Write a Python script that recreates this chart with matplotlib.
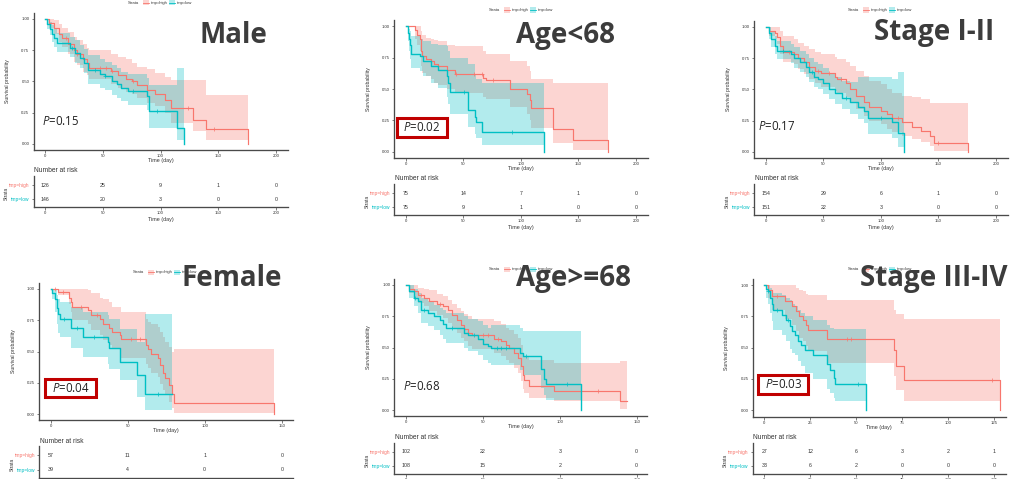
import matplotlib
matplotlib.use('Agg')
import matplotlib.pyplot as plt
from matplotlib.patches import Rectangle
import numpy as np

W, H = 1025, 479
RED = '#F8766D'
CYAN = '#00BFC4'

# ---------------- data ----------------
titles = ['Male', 'Age<68', 'Stage I-II', 'Female', 'Age>=68', 'Stage III-IV']
pvalues = ['0.15', '0.02', '0.17', '0.04', '0.68', '0.03']
group_labels = ['tmp=high', 'tmp=low']

# Panel 1: Male
p1_high_t = [0, 3, 8, 12, 15, 20, 25, 28, 33, 36, 38, 57, 63, 70, 75, 80, 88, 95, 104, 109, 128, 139, 176]
p1_high_s = [1.0, 0.97, 0.93, 0.88, 0.85, 0.80, 0.75, 0.72, 0.68, 0.65, 0.61, 0.58, 0.55, 0.52, 0.50, 0.47, 0.43, 0.40, 0.35, 0.29, 0.19, 0.12, 0.0]
p1_high_hi = [1.0, 1.0, 0.99, 0.96, 0.93, 0.90, 0.86, 0.83, 0.80, 0.77, 0.75, 0.72, 0.70, 0.68, 0.65, 0.62, 0.60, 0.57, 0.54, 0.51, 0.51, 0.39, 0.39]
p1_high_lo = [1.0, 0.93, 0.88, 0.82, 0.78, 0.72, 0.66, 0.63, 0.58, 0.55, 0.52, 0.48, 0.45, 0.42, 0.40, 0.37, 0.33, 0.30, 0.25, 0.17, 0.10, 0.03, 0.03]
p1_high_cens = [18, 28, 48, 53, 58, 76, 124, 146]
p1_low_t = [0, 2, 4, 6, 8, 10, 22, 26, 30, 34, 37, 48, 52, 58, 62, 66, 72, 88, 90, 114, 120]
p1_low_s = [1.0, 0.96, 0.92, 0.88, 0.85, 0.81, 0.77, 0.73, 0.69, 0.65, 0.59, 0.56, 0.54, 0.50, 0.48, 0.45, 0.42, 0.38, 0.26, 0.13, 0.0]
p1_low_hi = [1.0, 1.0, 0.98, 0.95, 0.92, 0.89, 0.86, 0.83, 0.79, 0.76, 0.71, 0.68, 0.66, 0.63, 0.61, 0.58, 0.56, 0.53, 0.47, 0.61, 0.61]
p1_low_lo = [1.0, 0.92, 0.87, 0.82, 0.78, 0.74, 0.70, 0.65, 0.61, 0.57, 0.48, 0.45, 0.43, 0.39, 0.37, 0.34, 0.31, 0.27, 0.13, 0.03, 0.03]
p1_low_cens = [23, 43, 52, 76, 97]
p1_xticks = [0, 50, 100, 150, 200]
p1_risk_high = [126, 25, 9, 1, 0]
p1_risk_low = [146, 20, 3, 0, 0]

# Panel 2: Age<68
p2_high_t = [0, 8, 10, 12, 13, 14, 18, 22, 25, 28, 36, 43, 67, 70, 91, 105, 108, 109, 128, 145, 176]
p2_high_s = [1.0, 0.97, 0.93, 0.90, 0.80, 0.76, 0.74, 0.72, 0.70, 0.68, 0.65, 0.62, 0.59, 0.57, 0.50, 0.46, 0.41, 0.35, 0.18, 0.09, 0.0]
p2_high_hi = [1.0, 1.0, 1.0, 1.0, 0.96, 0.93, 0.91, 0.90, 0.89, 0.88, 0.85, 0.84, 0.80, 0.78, 0.72, 0.68, 0.64, 0.58, 0.55, 0.55, 0.55]
p2_high_lo = [1.0, 0.90, 0.85, 0.80, 0.68, 0.63, 0.60, 0.58, 0.55, 0.53, 0.50, 0.47, 0.44, 0.42, 0.36, 0.30, 0.25, 0.19, 0.07, 0.01, 0.01]
p2_high_cens = [44, 59, 66, 76]
p2_low_t = [0, 2, 3, 4, 5, 12, 15, 22, 28, 36, 37, 38.5, 54, 60, 61, 66, 120]
p2_low_s = [1.0, 0.95, 0.90, 0.85, 0.78, 0.76, 0.72, 0.68, 0.65, 0.60, 0.55, 0.48, 0.33, 0.28, 0.24, 0.16, 0.0]
p2_low_hi = [1.0, 1.0, 0.98, 0.96, 0.92, 0.90, 0.88, 0.86, 0.85, 0.84, 0.80, 0.75, 0.70, 0.62, 0.58, 0.55, 0.55]
p2_low_lo = [1.0, 0.88, 0.80, 0.74, 0.67, 0.64, 0.60, 0.55, 0.51, 0.44, 0.38, 0.30, 0.20, 0.14, 0.11, 0.05, 0.05]
p2_low_cens = [51, 92]
p2_xticks = [0, 50, 100, 150, 200]
p2_risk_high = [75, 14, 7, 1, 0]
p2_risk_low = [75, 9, 1, 0, 0]

# Panel 3: Stage I-II
p3_high_t = [0, 3, 8, 10, 12, 15, 25, 28, 33, 38, 43, 48, 60, 62, 70, 73, 78, 85, 90, 100, 105, 110, 118, 127, 135, 143, 146, 176]
p3_high_s = [1.0, 0.97, 0.95, 0.92, 0.85, 0.80, 0.78, 0.75, 0.72, 0.68, 0.65, 0.63, 0.60, 0.58, 0.55, 0.50, 0.45, 0.40, 0.36, 0.33, 0.30, 0.27, 0.24, 0.20, 0.17, 0.13, 0.07, 0.0]
p3_high_hi = [1.0, 1.0, 1.0, 1.0, 0.97, 0.93, 0.90, 0.87, 0.85, 0.82, 0.80, 0.78, 0.76, 0.74, 0.72, 0.69, 0.65, 0.61, 0.57, 0.54, 0.50, 0.47, 0.45, 0.44, 0.42, 0.39, 0.39, 0.39]
p3_high_lo = [1.0, 0.93, 0.90, 0.86, 0.78, 0.72, 0.70, 0.66, 0.62, 0.58, 0.55, 0.52, 0.49, 0.47, 0.44, 0.39, 0.34, 0.29, 0.25, 0.22, 0.18, 0.16, 0.13, 0.10, 0.08, 0.05, 0.01, 0.01]
p3_high_cens = [20, 45, 55, 65, 115, 150]
p3_low_t = [0, 3, 5, 8, 10, 22, 25, 30, 35, 38, 42, 45, 50, 55, 60, 66, 73, 80, 85, 89, 110, 115, 120]
p3_low_s = [1.0, 0.95, 0.90, 0.85, 0.81, 0.78, 0.75, 0.72, 0.68, 0.64, 0.60, 0.58, 0.55, 0.50, 0.47, 0.43, 0.40, 0.36, 0.33, 0.27, 0.24, 0.15, 0.0]
p3_low_hi = [1.0, 1.0, 0.97, 0.93, 0.89, 0.86, 0.84, 0.81, 0.78, 0.75, 0.72, 0.70, 0.67, 0.63, 0.60, 0.57, 0.56, 0.60, 0.60, 0.60, 0.58, 0.64, 0.64]
p3_low_lo = [1.0, 0.90, 0.84, 0.78, 0.74, 0.71, 0.67, 0.64, 0.60, 0.56, 0.52, 0.50, 0.46, 0.42, 0.38, 0.34, 0.30, 0.26, 0.23, 0.14, 0.11, 0.04, 0.04]
p3_low_cens = [15, 40, 70, 100]
p3_xticks = [0, 50, 100, 150, 200]
p3_risk_high = [154, 29, 6, 1, 0]
p3_risk_low = [151, 22, 3, 0, 0]

# Panel 4: Female
p4_high_t = [0, 5, 12, 13, 14, 24, 26, 32, 34, 38, 40, 45, 46, 62, 63, 65, 70, 71, 73, 74, 77, 79, 80, 145]
p4_high_s = [1.0, 0.98, 0.93, 0.90, 0.86, 0.83, 0.79, 0.76, 0.72, 0.69, 0.66, 0.63, 0.60, 0.55, 0.52, 0.48, 0.45, 0.39, 0.33, 0.29, 0.23, 0.16, 0.085, 0.0]
p4_high_hi = [1.0, 1.0, 1.0, 1.0, 1.0, 0.99, 0.97, 0.93, 0.92, 0.90, 0.86, 0.86, 0.82, 0.76, 0.74, 0.72, 0.70, 0.66, 0.62, 0.58, 0.54, 0.50, 0.52, 0.52]
p4_high_lo = [1.0, 0.95, 0.88, 0.82, 0.75, 0.72, 0.67, 0.63, 0.59, 0.55, 0.52, 0.48, 0.45, 0.40, 0.37, 0.33, 0.30, 0.24, 0.19, 0.15, 0.10, 0.05, 0.01, 0.01]
p4_high_cens = [3, 8, 20, 30, 52, 58]
p4_low_t = [0, 1, 3, 4, 5, 6, 13, 21, 37, 38, 45, 56, 61, 79]
p4_low_s = [1.0, 0.97, 0.92, 0.85, 0.80, 0.76, 0.69, 0.62, 0.58, 0.53, 0.42, 0.31, 0.16, 0.16]
p4_low_hi = [1.0, 1.0, 0.99, 0.95, 0.92, 0.90, 0.86, 0.82, 0.79, 0.76, 0.68, 0.58, 0.80, 0.80]
p4_low_lo = [1.0, 0.92, 0.82, 0.72, 0.65, 0.62, 0.53, 0.46, 0.40, 0.36, 0.27, 0.14, 0.03, 0.03]
p4_low_cens = [9, 17, 28, 70]
p4_xticks = [0, 50, 100, 150]
p4_risk_high = [57, 11, 1, 0]
p4_risk_low = [39, 4, 0, 0]

# Panel 5: Age>=68
p5_high_t = [0, 2, 5, 8, 12, 15, 20, 24, 27, 30, 33, 36, 38, 40, 43, 57, 62, 65, 67, 70, 73, 75, 76, 77, 80, 96, 139, 144]
p5_high_s = [1.0, 0.97, 0.95, 0.92, 0.90, 0.87, 0.85, 0.83, 0.80, 0.76, 0.72, 0.68, 0.65, 0.62, 0.60, 0.57, 0.55, 0.52, 0.50, 0.46, 0.42, 0.35, 0.28, 0.24, 0.19, 0.15, 0.07, 0.07]
p5_high_hi = [1.0, 1.0, 1.0, 0.98, 0.97, 0.96, 0.93, 0.91, 0.88, 0.85, 0.82, 0.79, 0.77, 0.75, 0.73, 0.71, 0.69, 0.66, 0.64, 0.61, 0.58, 0.52, 0.46, 0.43, 0.40, 0.38, 0.39, 0.39]
p5_high_lo = [1.0, 0.94, 0.90, 0.86, 0.83, 0.79, 0.76, 0.74, 0.70, 0.66, 0.62, 0.58, 0.55, 0.51, 0.49, 0.46, 0.43, 0.40, 0.38, 0.34, 0.30, 0.23, 0.17, 0.14, 0.10, 0.07, 0.01, 0.01]
p5_high_cens = [10, 22, 50, 53, 60, 125]
p5_low_t = [0, 2, 5, 8, 10, 14, 18, 22, 24, 26, 38, 40, 47, 50, 53, 55, 74, 76, 88, 90, 91, 114]
p5_low_s = [1.0, 0.95, 0.90, 0.87, 0.80, 0.78, 0.75, 0.72, 0.69, 0.66, 0.62, 0.60, 0.57, 0.53, 0.51, 0.50, 0.46, 0.43, 0.33, 0.25, 0.21, 0.0]
p5_low_hi = [1.0, 1.0, 0.97, 0.94, 0.90, 0.87, 0.84, 0.82, 0.80, 0.78, 0.75, 0.73, 0.71, 0.68, 0.66, 0.68, 0.66, 0.63, 0.63, 0.63, 0.63, 0.63]
p5_low_lo = [1.0, 0.90, 0.83, 0.78, 0.70, 0.67, 0.64, 0.60, 0.57, 0.54, 0.50, 0.47, 0.44, 0.40, 0.38, 0.36, 0.32, 0.28, 0.18, 0.12, 0.08, 0.08]
p5_low_cens = [6, 12, 30, 44, 59, 62, 65, 78, 105]
p5_xticks = [0, 50, 100, 150]
p5_risk_high = [102, 22, 3, 0]
p5_risk_low = [108, 15, 2, 0]

# Panel 6: Stage III-IV
p6_high_t = [0, 2, 4, 11, 15, 17, 19, 21, 22.5, 24, 34, 70.5, 71.5, 76, 128]
p6_high_s = [1.0, 0.96, 0.91, 0.87, 0.83, 0.79, 0.75, 0.72, 0.68, 0.64, 0.57, 0.48, 0.35, 0.24, 0.0]
p6_high_hi = [1.0, 1.0, 1.0, 1.0, 1.0, 0.98, 0.96, 0.95, 0.93, 0.92, 0.88, 0.80, 0.77, 0.73, 0.73]
p6_high_lo = [1.0, 0.90, 0.80, 0.73, 0.68, 0.63, 0.58, 0.55, 0.51, 0.47, 0.38, 0.27, 0.16, 0.075, 0.075]
p6_high_cens = [7, 45, 47, 124]
p6_low_t = [0, 1, 2, 3, 4, 5, 9.5, 12, 14, 15, 16.5, 18.5, 20, 22, 26.5, 34, 35.5, 38, 38.5, 55.5]
p6_low_s = [1.0, 0.97, 0.95, 0.90, 0.85, 0.80, 0.76, 0.72, 0.67, 0.63, 0.60, 0.55, 0.52, 0.48, 0.44, 0.37, 0.32, 0.26, 0.21, 0.0]
p6_low_hi = [1.0, 1.0, 1.0, 0.98, 0.96, 0.94, 0.92, 0.90, 0.88, 0.85, 0.83, 0.80, 0.78, 0.75, 0.72, 0.68, 0.66, 0.65, 0.65, 0.65]
p6_low_lo = [1.0, 0.90, 0.85, 0.78, 0.71, 0.64, 0.60, 0.55, 0.49, 0.46, 0.44, 0.39, 0.35, 0.30, 0.25, 0.17, 0.14, 0.10, 0.075, 0.075]
p6_low_cens = [2, 7, 13, 51]
p6_xticks = [0, 25, 50, 75, 100, 125]
p6_risk_high = [27, 12, 6, 3, 2, 1]
p6_risk_low = [33, 6, 2, 0, 0, 0]

# ---------------- layout (pixel coordinates) ----------------
panels = [
    dict(title=titles[0], title_xy=(199, 43.3), main=(33.5, 12.75, 287.5, 150.25), xlim=(-10, 210),
         xticks=p1_xticks, risk=(33.5, 176, 287.5, 207.3), legend=(128, 2.6),
         high=(p1_high_t, p1_high_s, p1_high_lo, p1_high_hi, p1_high_cens),
         low=(p1_low_t, p1_low_s, p1_low_lo, p1_low_hi, p1_low_cens),
         rh=p1_risk_high, rl=p1_risk_low, p=pvalues[0], p_xy=(41.7, 121.7), pbox=None),
    dict(title=titles[1], title_xy=(515.7, 43.3), main=(394.2, 20.0, 647.5, 158.0), xlim=(-10, 210),
         xticks=p2_xticks, risk=(394.2, 184, 647.5, 215.3), legend=(489, 10),
         high=(p2_high_t, p2_high_s, p2_high_lo, p2_high_hi, p2_high_cens),
         low=(p2_low_t, p2_low_s, p2_low_lo, p2_low_hi, p2_low_cens),
         rh=p2_risk_high, rl=p2_risk_low, p=pvalues[1], p_xy=None, pbox=(396.7, 118.3, 446.7, 136.7)),
    dict(title=titles[2], title_xy=(874, 40.0), main=(754.2, 20.5, 1007.5, 158.0), xlim=(-10, 210),
         xticks=p3_xticks, risk=(754.2, 184, 1007.5, 215.3), legend=(848, 10),
         high=(p3_high_t, p3_high_s, p3_high_lo, p3_high_hi, p3_high_cens),
         low=(p3_low_t, p3_low_s, p3_low_lo, p3_low_hi, p3_low_cens),
         rh=p3_risk_high, rl=p3_risk_low, p=pvalues[2], p_xy=(758.3, 126.7), pbox=None),
    dict(title=titles[3], title_xy=(181.7, 286.0), main=(39.2, 282.75, 293.0, 420.25), xlim=(-7.4, 157.3),
         xticks=p4_xticks, risk=(39.2, 446.3, 293.0, 477.6), legend=(133, 272),
         high=(p4_high_t, p4_high_s, p4_high_lo, p4_high_hi, p4_high_cens),
         low=(p4_low_t, p4_low_s, p4_low_lo, p4_low_hi, p4_low_cens),
         rh=p4_risk_high, rl=p4_risk_low, p=pvalues[3], p_xy=None, pbox=(45.0, 379.3, 95.7, 397.3)),
    dict(title=titles[4], title_xy=(515.7, 285.7), main=(394.3, 278.75, 646.7, 416.25), xlim=(-7.6, 156.5),
         xticks=p5_xticks, risk=(394.3, 442.7, 646.7, 474.0), legend=(489, 269),
         high=(p5_high_t, p5_high_s, p5_high_lo, p5_high_hi, p5_high_cens),
         low=(p5_low_t, p5_low_s, p5_low_lo, p5_low_hi, p5_low_cens),
         rh=p5_risk_high, rl=p5_risk_low, p=pvalues[4], p_xy=(403.3, 386.7), pbox=None),
    dict(title=titles[5], title_xy=(860, 286.0), main=(752.7, 278.75, 1005.5, 416.5), xlim=(-6.3, 131.1),
         xticks=p6_xticks, risk=(752.7, 442.7, 1005.5, 474.0), legend=(848, 269),
         high=(p6_high_t, p6_high_s, p6_high_lo, p6_high_hi, p6_high_cens),
         low=(p6_low_t, p6_low_s, p6_low_lo, p6_low_hi, p6_low_cens),
         rh=p6_risk_high, rl=p6_risk_low, p=pvalues[5], p_xy=None, pbox=(758.3, 375.0, 808.3, 394.0)),
]

plt.rcParams['font.family'] = ['Liberation Sans', 'DejaVu Sans']
plt.rcParams['mathtext.fontset'] = 'custom'
plt.rcParams['mathtext.it'] = 'Open Sans:italic'
plt.rcParams['mathtext.rm'] = 'Open Sans'

fig = plt.figure(figsize=(W / 100, H / 100), dpi=100)
fig.patch.set_facecolor('white')

AX_COL = '#4a4a4a'
TXT_COL = '#333333'


def px_ax(l, t, r, b):
    return fig.add_axes([l / W, 1 - b / H, (r - l) / W, (b - t) / H])


def ftext(x, y, s, **kw):
    return fig.text(x / W, 1 - y / H, s, **kw)


def style_axes(ax):
    for side in ['top', 'right']:
        ax.spines[side].set_visible(False)
    for side in ['left', 'bottom']:
        ax.spines[side].set_color(AX_COL)
        ax.spines[side].set_linewidth(0.95)
    ax.tick_params(length=1.8, width=0.5, color=AX_COL, labelsize=3.1, pad=1.2, labelcolor=TXT_COL)
    ax.set_facecolor('none')


def draw_legend(x0, y):
    ftext(x0, y, 'Strata', fontsize=3.0, color=TXT_COL, ha='left', va='center')
    for dx, col, lab in [(15, RED, group_labels[0]), (41, CYAN, group_labels[1])]:
        fig.patches.append(Rectangle(((x0 + dx) / W, 1 - (y + 2.5) / H), 6 / W, 5 / H,
                                     transform=fig.transFigure, fc=col, alpha=0.3, ec='none'))
        fig.lines.append(plt.Line2D([(x0 + dx) / W, (x0 + dx + 6) / W], [1 - y / H, 1 - y / H],
                                    transform=fig.transFigure, color=col, lw=0.6))
        ftext(x0 + dx + 8, y, lab, fontsize=3.0, color=TXT_COL, ha='left', va='center')


for P in panels:
    l, t, r, b = P['main']
    ax = px_ax(l, t, r, b)
    groups = [(P['high'], RED, 0.85), (P['low'], CYAN, 1.0)]
    for (tt, ss, lo, hi, cens), col, lw in groups:
        ax.fill_between(tt, lo, hi, step='post', color=col, alpha=0.3, linewidth=0)
    for (tt, ss, lo, hi, cens), col, lw in groups:
        ax.step(tt, ss, where='post', color=col, lw=lw)
        idx = np.searchsorted(np.asarray(tt), np.asarray(cens), side='right') - 1
        ax.plot(cens, np.asarray(ss)[idx], linestyle='none', marker='+', ms=2.2, mew=0.5, color=col)
    ax.set_xlim(*P['xlim'])
    ax.set_ylim(-0.05, 1.05)
    ax.set_xticks(P['xticks'])
    ax.set_yticks([0, 0.25, 0.5, 0.75, 1.0])
    ax.set_yticklabels(['0.00', '0.25', '0.50', '0.75', '1.00'])
    style_axes(ax)
    ftext((l + r) / 2, b + 10.7, 'Time (day)', fontsize=3.9, color=TXT_COL, ha='center', va='center')
    ftext(l - 26, (t + b) / 2, 'Survival probability', fontsize=3.7, color=TXT_COL,
          ha='center', va='center', rotation=90)

    # risk table
    rl_, rt, rr, rb = P['risk']
    rax = px_ax(rl_, rt, rr, rb)
    rax.set_xlim(*P['xlim'])
    rax.set_ylim(0.43, 2.64)
    rax.set_xticks(P['xticks'])
    rax.set_yticks([1, 2])
    rax.set_yticklabels([group_labels[1], group_labels[0]])
    style_axes(rax)
    rax.tick_params(axis='y', labelsize=3.5)
    for lbl, col in zip(rax.get_yticklabels(), [CYAN, RED]):
        lbl.set_color(col)
    for xv, nh, nl in zip(P['xticks'], P['rh'], P['rl']):
        rax.text(xv, 2, str(nh), fontsize=3.8, color=TXT_COL, ha='center', va='center')
        rax.text(xv, 1, str(nl), fontsize=3.8, color=TXT_COL, ha='center', va='center')
    ftext(rl_ + 0.5, rt - 5, 'Number at risk', fontsize=4.8, color=TXT_COL, ha='left', va='center')
    ftext(rl_ - 27, (rt + rb) / 2 + 2, 'Strata', fontsize=3.5, color=TXT_COL, ha='center', va='center',
          rotation=90)
    ftext((rl_ + rr) / 2, rb + 11.7, 'Time (day)', fontsize=3.9, color=TXT_COL, ha='center', va='center')

    # legend
    draw_legend(*P['legend'])

    # p-value
    ptxt = r'$\mathit{P}$=' + P['p']
    if P['pbox'] is None:
        ftext(P['p_xy'][0], P['p_xy'][1], ptxt, fontsize=8.3, color='#222222', ha='left', va='center',
              family='Open Sans')
    else:
        bl, bt, br, bb = P['pbox']
        fig.patches.append(Rectangle((bl / W, 1 - bb / H), (br - bl) / W, (bb - bt) / H,
                                     transform=fig.transFigure, fc='white', ec='#C00000', lw=2.2, zorder=5))
        ftext((bl + br) / 2, (bt + bb) / 2, ptxt, fontsize=8.3, color='#222222', ha='center', va='center',
              family='Open Sans', zorder=6)

    # big title
    ftext(P['title_xy'][0], P['title_xy'][1], P['title'], fontsize=20, fontweight='bold',
          family='Open Sans', color='#3c3c3c', ha='left', va='baseline', zorder=10)

fig.savefig('out.png', dpi=100, facecolor='white')
